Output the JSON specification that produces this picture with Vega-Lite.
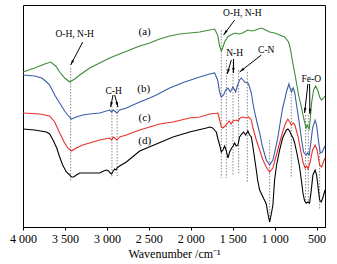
{
  "$schema": "https://vega.github.io/schema/vega-lite/v6.json",
  "width": 302,
  "height": 222,
  "autosize": {"type": "none"},
  "padding": {"left": 23, "top": 5, "right": 12, "bottom": 37},
  "background": "white",
  "config": {
    "view": {"stroke": "#000", "strokeWidth": 1},
    "font": "Liberation Serif"
  },
  "datasets": {
    "spec": [
      {"s":"a","wn":4000,"t":155},{"s":"a","wn":3861,"t":159},{"s":"a","wn":3741,"t":163},{"s":"a","wn":3670,"t":165},{"s":"a","wn":3610,"t":161},{"s":"a","wn":3563,"t":155},{"s":"a","wn":3503,"t":149},{"s":"a","wn":3443,"t":145},{"s":"a","wn":3384,"t":148},{"s":"a","wn":3324,"t":152},{"s":"a","wn":3205,"t":159},{"s":"a","wn":3086,"t":164},{"s":"a","wn":2967,"t":169},{"s":"a","wn":2848,"t":173},{"s":"a","wn":2729,"t":177},{"s":"a","wn":2609,"t":181},{"s":"a","wn":2490,"t":184},{"s":"a","wn":2371,"t":188},{"s":"a","wn":2252,"t":191},{"s":"a","wn":2133,"t":193},{"s":"a","wn":2014,"t":194},{"s":"a","wn":1894,"t":195},{"s":"a","wn":1775,"t":197},{"s":"a","wn":1716,"t":198},{"s":"a","wn":1680,"t":192},{"s":"a","wn":1656,"t":181},{"s":"a","wn":1636,"t":176},{"s":"a","wn":1620,"t":179},{"s":"a","wn":1597,"t":185},{"s":"a","wn":1561,"t":190},{"s":"a","wn":1525,"t":192},{"s":"a","wn":1497,"t":193},{"s":"a","wn":1465,"t":194},{"s":"a","wn":1430,"t":193},{"s":"a","wn":1382,"t":194},{"s":"a","wn":1322,"t":197},{"s":"a","wn":1275,"t":196},{"s":"a","wn":1227,"t":197},{"s":"a","wn":1156,"t":199},{"s":"a","wn":1108,"t":197},{"s":"a","wn":1060,"t":195},{"s":"a","wn":1001,"t":194},{"s":"a","wn":941,"t":192},{"s":"a","wn":881,"t":190},{"s":"a","wn":834,"t":185},{"s":"a","wn":810,"t":177},{"s":"a","wn":786,"t":165},{"s":"a","wn":750,"t":149},{"s":"a","wn":715,"t":132},{"s":"a","wn":679,"t":119},{"s":"a","wn":655,"t":109},{"s":"a","wn":637,"t":103},{"s":"a","wn":625,"t":99},{"s":"a","wn":613,"t":102},{"s":"a","wn":601,"t":100},{"s":"a","wn":589,"t":98},{"s":"a","wn":577,"t":107},{"s":"a","wn":560,"t":124},{"s":"a","wn":536,"t":137},{"s":"a","wn":512,"t":141},{"s":"a","wn":488,"t":137},{"s":"a","wn":464,"t":130},{"s":"a","wn":444,"t":127},{"s":"a","wn":428,"t":128},{"s":"a","wn":400,"t":131},
      {"s":"b","wn":4000,"t":152},{"s":"b","wn":3861,"t":151},{"s":"b","wn":3777,"t":149},{"s":"b","wn":3718,"t":145},{"s":"b","wn":3682,"t":142},{"s":"b","wn":3622,"t":132},{"s":"b","wn":3563,"t":124},{"s":"b","wn":3503,"t":116},{"s":"b","wn":3467,"t":112},{"s":"b","wn":3423,"t":108},{"s":"b","wn":3364,"t":110},{"s":"b","wn":3289,"t":112},{"s":"b","wn":3205,"t":113},{"s":"b","wn":3086,"t":114},{"s":"b","wn":2967,"t":117},{"s":"b","wn":2943,"t":115},{"s":"b","wn":2925,"t":117},{"s":"b","wn":2907,"t":116},{"s":"b","wn":2880,"t":114},{"s":"b","wn":2848,"t":117},{"s":"b","wn":2768,"t":119},{"s":"b","wn":2609,"t":125},{"s":"b","wn":2490,"t":129},{"s":"b","wn":2410,"t":132},{"s":"b","wn":2252,"t":139},{"s":"b","wn":2073,"t":145},{"s":"b","wn":1894,"t":150},{"s":"b","wn":1775,"t":153},{"s":"b","wn":1716,"t":154},{"s":"b","wn":1680,"t":147},{"s":"b","wn":1656,"t":135},{"s":"b","wn":1636,"t":130},{"s":"b","wn":1609,"t":132},{"s":"b","wn":1585,"t":137},{"s":"b","wn":1557,"t":139},{"s":"b","wn":1529,"t":135},{"s":"b","wn":1497,"t":140},{"s":"b","wn":1465,"t":135},{"s":"b","wn":1442,"t":142},{"s":"b","wn":1418,"t":147},{"s":"b","wn":1398,"t":149},{"s":"b","wn":1376,"t":147},{"s":"b","wn":1358,"t":145},{"s":"b","wn":1319,"t":144},{"s":"b","wn":1299,"t":140},{"s":"b","wn":1278,"t":134},{"s":"b","wn":1262,"t":125},{"s":"b","wn":1239,"t":115},{"s":"b","wn":1203,"t":102},{"s":"b","wn":1179,"t":94},{"s":"b","wn":1144,"t":80},{"s":"b","wn":1100,"t":67},{"s":"b","wn":1060,"t":62},{"s":"b","wn":1021,"t":67},{"s":"b","wn":989,"t":79},{"s":"b","wn":961,"t":90},{"s":"b","wn":929,"t":107},{"s":"b","wn":905,"t":119},{"s":"b","wn":881,"t":127},{"s":"b","wn":857,"t":136},{"s":"b","wn":830,"t":143},{"s":"b","wn":810,"t":137},{"s":"b","wn":798,"t":135},{"s":"b","wn":780,"t":139},{"s":"b","wn":762,"t":135},{"s":"b","wn":739,"t":122},{"s":"b","wn":703,"t":102},{"s":"b","wn":679,"t":87},{"s":"b","wn":655,"t":75},{"s":"b","wn":625,"t":72},{"s":"b","wn":607,"t":74},{"s":"b","wn":589,"t":72},{"s":"b","wn":572,"t":82},{"s":"b","wn":548,"t":99},{"s":"b","wn":518,"t":107},{"s":"b","wn":500,"t":102},{"s":"b","wn":476,"t":85},{"s":"b","wn":456,"t":74},{"s":"b","wn":434,"t":75},{"s":"b","wn":400,"t":81},
      {"s":"c","wn":4000,"t":114},{"s":"c","wn":3801,"t":113},{"s":"c","wn":3682,"t":111},{"s":"c","wn":3622,"t":105},{"s":"c","wn":3563,"t":94},{"s":"c","wn":3503,"t":84},{"s":"c","wn":3467,"t":79},{"s":"c","wn":3423,"t":76},{"s":"c","wn":3364,"t":79},{"s":"c","wn":3289,"t":82},{"s":"c","wn":3086,"t":87},{"s":"c","wn":2967,"t":89},{"s":"c","wn":2943,"t":87},{"s":"c","wn":2925,"t":90},{"s":"c","wn":2907,"t":89},{"s":"c","wn":2880,"t":87},{"s":"c","wn":2848,"t":90},{"s":"c","wn":2768,"t":92},{"s":"c","wn":2609,"t":97},{"s":"c","wn":2490,"t":100},{"s":"c","wn":2371,"t":103},{"s":"c","wn":2212,"t":105},{"s":"c","wn":2014,"t":109},{"s":"c","wn":1894,"t":110},{"s":"c","wn":1775,"t":113},{"s":"c","wn":1676,"t":114},{"s":"c","wn":1656,"t":107},{"s":"c","wn":1636,"t":100},{"s":"c","wn":1617,"t":99},{"s":"c","wn":1591,"t":101},{"s":"c","wn":1569,"t":103},{"s":"c","wn":1543,"t":106},{"s":"c","wn":1519,"t":103},{"s":"c","wn":1497,"t":106},{"s":"c","wn":1457,"t":107},{"s":"c","wn":1436,"t":106},{"s":"c","wn":1412,"t":109},{"s":"c","wn":1378,"t":110},{"s":"c","wn":1338,"t":109},{"s":"c","wn":1311,"t":110},{"s":"c","wn":1278,"t":107},{"s":"c","wn":1259,"t":99},{"s":"c","wn":1219,"t":87},{"s":"c","wn":1179,"t":77},{"s":"c","wn":1140,"t":67},{"s":"c","wn":1100,"t":60},{"s":"c","wn":1060,"t":55},{"s":"c","wn":1021,"t":59},{"s":"c","wn":989,"t":69},{"s":"c","wn":941,"t":84},{"s":"c","wn":905,"t":95},{"s":"c","wn":869,"t":104},{"s":"c","wn":842,"t":108},{"s":"c","wn":822,"t":105},{"s":"c","wn":802,"t":102},{"s":"c","wn":780,"t":104},{"s":"c","wn":762,"t":103},{"s":"c","wn":723,"t":91},{"s":"c","wn":691,"t":77},{"s":"c","wn":663,"t":65},{"s":"c","wn":637,"t":59},{"s":"c","wn":619,"t":61},{"s":"c","wn":601,"t":58},{"s":"c","wn":577,"t":65},{"s":"c","wn":548,"t":77},{"s":"c","wn":518,"t":82},{"s":"c","wn":494,"t":77},{"s":"c","wn":464,"t":62},{"s":"c","wn":440,"t":60},{"s":"c","wn":400,"t":69},
      {"s":"d","wn":4000,"t":98},{"s":"d","wn":3861,"t":97},{"s":"d","wn":3721,"t":95},{"s":"d","wn":3682,"t":93},{"s":"d","wn":3642,"t":87},{"s":"d","wn":3598,"t":79},{"s":"d","wn":3563,"t":70},{"s":"d","wn":3527,"t":62},{"s":"d","wn":3483,"t":55},{"s":"d","wn":3443,"t":52},{"s":"d","wn":3423,"t":50},{"s":"d","wn":3396,"t":50},{"s":"d","wn":3364,"t":52},{"s":"d","wn":3324,"t":54},{"s":"d","wn":3244,"t":54},{"s":"d","wn":3145,"t":54},{"s":"d","wn":3086,"t":54},{"s":"d","wn":3038,"t":56},{"s":"d","wn":3006,"t":57},{"s":"d","wn":2979,"t":56},{"s":"d","wn":2960,"t":54},{"s":"d","wn":2943,"t":53},{"s":"d","wn":2925,"t":56},{"s":"d","wn":2907,"t":58},{"s":"d","wn":2891,"t":57},{"s":"d","wn":2880,"t":59},{"s":"d","wn":2848,"t":61},{"s":"d","wn":2768,"t":65},{"s":"d","wn":2609,"t":76},{"s":"d","wn":2410,"t":83},{"s":"d","wn":2212,"t":90},{"s":"d","wn":2014,"t":95},{"s":"d","wn":1814,"t":99},{"s":"d","wn":1775,"t":100},{"s":"d","wn":1739,"t":99},{"s":"d","wn":1696,"t":95},{"s":"d","wn":1676,"t":88},{"s":"d","wn":1656,"t":82},{"s":"d","wn":1636,"t":75},{"s":"d","wn":1617,"t":77},{"s":"d","wn":1597,"t":81},{"s":"d","wn":1579,"t":77},{"s":"d","wn":1557,"t":69},{"s":"d","wn":1537,"t":75},{"s":"d","wn":1513,"t":79},{"s":"d","wn":1495,"t":81},{"s":"d","wn":1477,"t":84},{"s":"d","wn":1459,"t":81},{"s":"d","wn":1438,"t":82},{"s":"d","wn":1418,"t":90},{"s":"d","wn":1394,"t":93},{"s":"d","wn":1370,"t":95},{"s":"d","wn":1346,"t":92},{"s":"d","wn":1319,"t":96},{"s":"d","wn":1299,"t":92},{"s":"d","wn":1278,"t":90},{"s":"d","wn":1259,"t":80},{"s":"d","wn":1219,"t":57},{"s":"d","wn":1203,"t":47},{"s":"d","wn":1179,"t":37},{"s":"d","wn":1140,"t":30},{"s":"d","wn":1100,"t":23},{"s":"d","wn":1080,"t":13},{"s":"d","wn":1060,"t":5},{"s":"d","wn":1040,"t":13},{"s":"d","wn":1021,"t":22},{"s":"d","wn":1001,"t":47},{"s":"d","wn":977,"t":62},{"s":"d","wn":941,"t":77},{"s":"d","wn":905,"t":89},{"s":"d","wn":861,"t":97},{"s":"d","wn":842,"t":98},{"s":"d","wn":822,"t":96},{"s":"d","wn":802,"t":92},{"s":"d","wn":780,"t":89},{"s":"d","wn":762,"t":84},{"s":"d","wn":738,"t":75},{"s":"d","wn":703,"t":60},{"s":"d","wn":679,"t":45},{"s":"d","wn":663,"t":34},{"s":"d","wn":643,"t":26},{"s":"d","wn":623,"t":24},{"s":"d","wn":604,"t":25},{"s":"d","wn":584,"t":24},{"s":"d","wn":566,"t":35},{"s":"d","wn":544,"t":52},{"s":"d","wn":518,"t":57},{"s":"d","wn":500,"t":52},{"s":"d","wn":484,"t":41},{"s":"d","wn":464,"t":27},{"s":"d","wn":444,"t":25},{"s":"d","wn":423,"t":30},{"s":"d","wn":400,"t":37}
    ],
    "vlines": [
      {"wn":3432,"t1":159,"t2":46},{"wn":2940,"t1":124,"t2":49},{"wn":2878,"t1":124,"t2":51},
      {"wn":1636,"t1":197,"t2":49},{"wn":1576,"t1":167,"t2":49},{"wn":1497,"t1":165,"t2":52},
      {"wn":1430,"t1":157,"t2":52},{"wn":1326,"t1":155,"t2":44},{"wn":1060,"t1":87,"t2":5},
      {"wn":802,"t1":139,"t2":49},{"wn":631,"t1":112,"t2":22},{"wn":599,"t1":112,"t2":22},
      {"wn":464,"t1":80,"t2":17}
    ],
    "bands": [
      {"txt":"O-H, N-H","wn":3384,"t":193},{"txt":"C-H","wn":2919,"t":136},
      {"txt":"O-H, N-H","wn":1385,"t":214},{"txt":"N-H","wn":1477,"t":174},
      {"txt":"C-N","wn":1100,"t":177},{"txt":"Fe-O","wn":563,"t":148}
    ],
    "tags": [
      {"txt":"(a)","wn":2550,"t":195},{"txt":"(b)","wn":2562,"t":138},
      {"txt":"(c)","wn":2550,"t":109},{"txt":"(d)","wn":2550,"t":86}
    ],
    "arrows": [
      {"wn1":3288,"t1":185,"wn2":3432,"t2":162},
      {"wn1":2927,"t1":132,"wn2":2955,"t2":120},
      {"wn1":2907,"t1":132,"wn2":2868,"t2":120},
      {"wn1":1477,"t1":207,"wn2":1609,"t2":192},
      {"wn1":1517,"t1":167,"wn2":1565,"t2":153},
      {"wn1":1490,"t1":168,"wn2":1492,"t2":154},
      {"wn1":1159,"t1":172,"wn2":1418,"t2":155},
      {"wn1":604,"t1":143,"wn2":643,"t2":114},
      {"wn1":584,"t1":143,"wn2":580,"t2":113}
    ]
  },
  "layer": [
    {
      "data": {"name": "vlines"},
      "mark": {"type": "rule", "color": "#555", "strokeWidth": 0.7, "strokeDash": [1.5, 1.5]},
      "encoding": {
        "x": {"field": "wn", "type": "quantitative", "scale": {"domain": [400, 4000], "reverse": true, "nice": false, "zero": false},
          "axis": {
            "values": [4000,3750,3500,3250,3000,2750,2500,2250,2000,1750,1500,1250,1000,750,500],
            "labelExpr": "datum.value % 500 === 0 ? replace(format(datum.value, ','), ',', ' ') : ''",
            "labelFont": "Liberation Serif", "labelFontSize": 12, "labelColor": "#000",
            "labelOverlap": false, "labelBound": false, "labelFlush": false, "labelPadding": 3,
            "tickSize": 3, "tickColor": "#000", "domainColor": "#000", "grid": false,
            "title": "Wavenumber /cm⁻¹", "titleFont": "Liberation Serif", "titleFontSize": 12,
            "titleFontWeight": "normal", "titleColor": "#000", "titlePadding": 4
          }},
        "y": {"field": "t1", "type": "quantitative", "scale": {"domain": [0, 222], "nice": false, "zero": false}, "axis": null},
        "y2": {"field": "t2"}
      }
    },
    {
      "data": {"name": "spec"},
      "mark": {"type": "line", "strokeWidth": 1.1},
      "encoding": {
        "x": {"field": "wn", "type": "quantitative"},
        "y": {"field": "t", "type": "quantitative"},
        "color": {"field": "s", "type": "nominal", "scale": {"domain": ["a","b","c","d"], "range": ["#3d8b37","#3b5ba8","#e8302a","#000000"]}, "legend": null},
        "order": {"field": "wn", "type": "quantitative"}
      }
    },
    {
      "data": {"name": "arrows"},
      "mark": {"type": "rule", "color": "#000", "strokeWidth": 1},
      "encoding": {
        "x": {"field": "wn1", "type": "quantitative"},
        "x2": {"field": "wn2"},
        "y": {"field": "t1", "type": "quantitative"},
        "y2": {"field": "t2"}
      }
    },
    {
      "data": {"name": "arrows"},
      "transform": [
        {"calculate": "(atan2(-(datum.wn2 - datum.wn1) * 0.08392, datum.t2 - datum.t1) * 180 / PI + 360) % 360", "as": "ang"}
      ],
      "mark": {"type": "point", "shape": "M0,0L0.45,1.9L-0.45,1.9Z", "filled": true, "color": "#000", "opacity": 1, "size": 30, "strokeWidth": 0},
      "encoding": {
        "x": {"field": "wn2", "type": "quantitative"},
        "y": {"field": "t2", "type": "quantitative"},
        "angle": {"field": "ang", "type": "quantitative", "scale": null}
      }
    },
    {
      "data": {"name": "bands"},
      "mark": {"type": "text", "font": "Liberation Serif", "fontSize": 9.5, "color": "#000", "align": "center", "baseline": "middle"},
      "encoding": {
        "x": {"field": "wn", "type": "quantitative"},
        "y": {"field": "t", "type": "quantitative"},
        "text": {"field": "txt"}
      }
    },
    {
      "data": {"name": "tags"},
      "mark": {"type": "text", "font": "Liberation Serif", "fontSize": 11, "color": "#000", "align": "center", "baseline": "middle"},
      "encoding": {
        "x": {"field": "wn", "type": "quantitative"},
        "y": {"field": "t", "type": "quantitative"},
        "text": {"field": "txt"}
      }
    }
  ]
}
